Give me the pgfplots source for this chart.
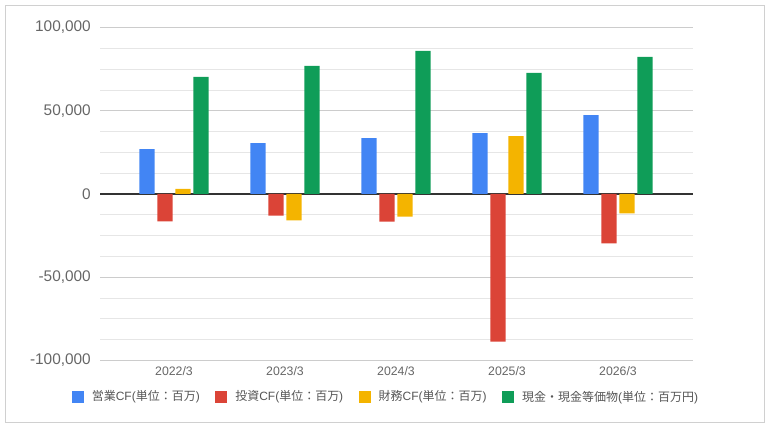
\documentclass[border=0pt]{standalone}
\usepackage{fontspec}
\setmainfont{Liberation Sans}
\newfontfamily\cjk{Noto Sans CJK JP}
\usepackage{pgfplots}
\pgfplotsset{compat=1.18}
\definecolor{cblue}{HTML}{4285F4}
\definecolor{cred}{HTML}{DB4437}
\definecolor{cyellow}{HTML}{F4B400}
\definecolor{cgreen}{HTML}{0F9D58}
\definecolor{majgrid}{HTML}{CCCCCC}
\definecolor{mingrid}{HTML}{E6E6E6}
\definecolor{bordergray}{HTML}{D0D0D0}
\definecolor{labgray}{HTML}{666666}
\definecolor{leggray}{HTML}{555555}
\begin{document}
\begin{tikzpicture}[x=1pt,y=1pt]
\path[use as bounding box] (0,0) rectangle (769,427);
\draw[color=bordergray, line width=0.8pt] (5,5) rectangle (764,422);
\begin{axis}[
  at={(100pt,66.5pt)}, anchor=south west,
  scale only axis, width=593pt, height=333pt,
  xmin=-0.667, xmax=4.676,
  ymin=-100000, ymax=100000,
  ybar=2.7pt, bar width=15.3pt,
  axis line style={draw=none},
  major tick length=0pt, minor tick length=0pt,
  scaled y ticks=false,
  xtick={0,1,2,3,4},
  xticklabels={2022/3,2023/3,2024/3,2025/3,2026/3},
  ytick={-100000,-50000,0,50000,100000},
  yticklabels={{-100,000},{-50,000},{0},{50,000},{100,000}},
  minor ytick={-87500,-75000,-62500,-37500,-25000,-12500,12500,25000,37500,62500,75000,87500},
  ymajorgrids, yminorgrids,
  major grid style={color=majgrid, line width=0.8pt},
  minor grid style={color=mingrid, line width=0.8pt},
  extra y ticks={0}, extra y tick labels={},
  extra y tick style={major grid style={draw=black!80, line width=1.2pt}},
  yticklabel style={font=\fontsize{15.4}{16}\selectfont, color=labgray, inner sep=0pt, xshift=-9pt},
  xticklabel style={font=\fontsize{12.3}{13}\selectfont, color=labgray, inner sep=0pt, yshift=-6pt},
  legend columns=4,
  legend image code/.code={\fill[#1] (0pt,-6pt) rectangle (12pt,6pt);},
  legend style={draw=none, fill=none, at={(0.4806,-0.1087)}, anchor=center,
    font=\fontsize{12}{13}\selectfont, text=leggray,
    nodes={inner sep=0pt},
    /tikz/every odd column/.style={column sep=8pt},
    /tikz/every even column/.style={column sep=15.5pt}},
]
\addplot[fill=cblue, draw=none] coordinates {(0,27000) (1,30600) (2,33600) (3,36600) (4,47400)};
\addplot[fill=cred, draw=none] coordinates {(0,-16400) (1,-13000) (2,-16600) (3,-88700) (4,-29600)};
\addplot[fill=cyellow, draw=none] coordinates {(0,3000) (1,-15800) (2,-13600) (3,34800) (4,-11700)};
\addplot[fill=cgreen, draw=none] coordinates {(0,70300) (1,76900) (2,85900) (3,72700) (4,82300)};
\legend{{\cjk 営業}CF({\cjk 単位：百万}),{\cjk 投資}CF({\cjk 単位：百万}),{\cjk 財務}CF({\cjk 単位：百万}),{\cjk 現金・現金等価物}({\cjk 単位：百万円})}
\end{axis}
\end{tikzpicture}
\end{document}
